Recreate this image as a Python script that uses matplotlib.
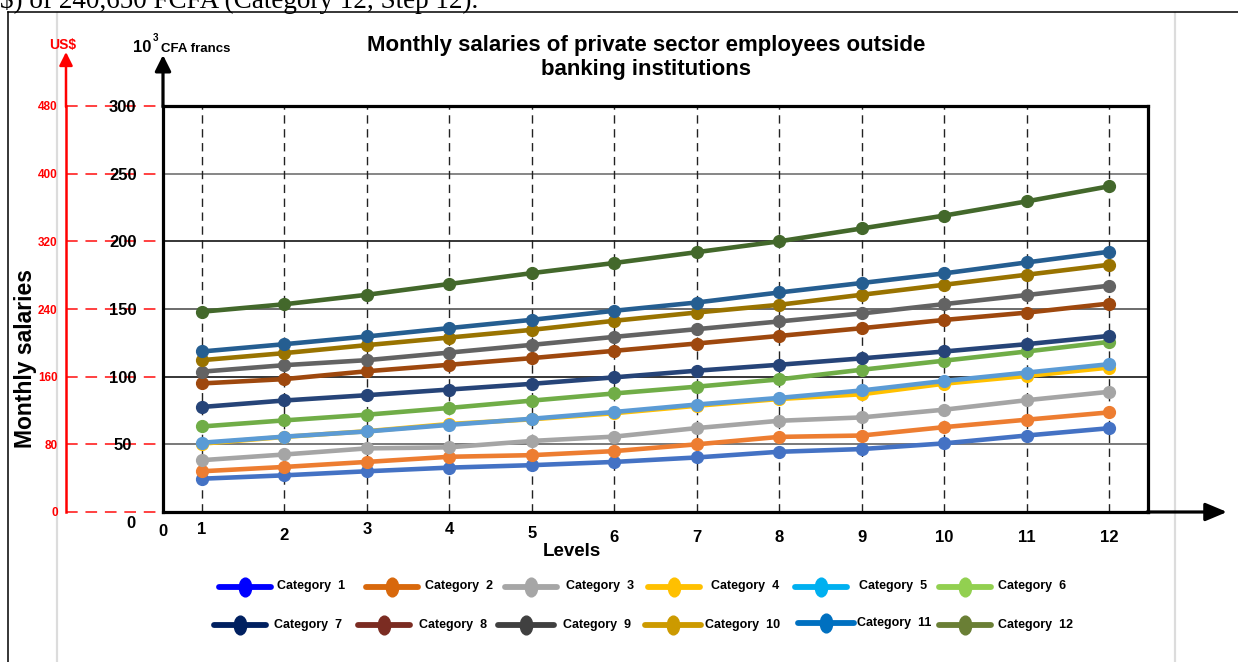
import matplotlib
matplotlib.use('Agg')
import matplotlib.pyplot as plt
from matplotlib.lines import Line2D
from matplotlib.path import Path
from matplotlib.transforms import Affine2D
import numpy as np

plt.rcParams['font.family'] = ['Liberation Sans', 'DejaVu Sans']
plt.rcParams['font.weight'] = 'bold'

# ---------------- data ----------------
levels = list(range(1, 13))
level_labels = [str(l) for l in levels]
categories = [f'Category  {i}' for i in range(1, 13)]

cat1 = [24.6, 27.1, 30.1, 32.8, 34.6, 37.0, 40.3, 44.5, 46.5, 50.7, 56.5, 61.9]
cat2 = [30.1, 33.3, 37.0, 40.8, 42.0, 45.0, 50.0, 55.5, 56.5, 62.7, 68.2, 73.6]
cat3 = [38.3, 42.5, 47.0, 47.8, 52.5, 55.7, 62.0, 67.4, 69.9, 75.6, 82.6, 88.8]
cat4 = [50.5, 55.5, 59.7, 65.0, 68.5, 73.0, 78.5, 83.5, 87.0, 94.8, 100.5, 106.7]
cat5 = [51.2, 55.7, 59.5, 64.4, 68.9, 73.9, 79.4, 84.3, 89.8, 96.8, 103.0, 109.2]
cat6 = [63.2, 67.7, 71.9, 76.9, 82.3, 87.6, 92.6, 98.0, 105.1, 111.8, 118.6, 125.7]
cat7 = [77.6, 82.4, 86.3, 90.5, 94.7, 99.5, 104.4, 108.8, 113.5, 118.6, 124.0, 130.1]
cat8 = [95.0, 98.2, 104.0, 108.8, 113.7, 119.1, 124.5, 130.1, 135.8, 141.9, 147.3, 154.0]
cat9 = [103.7, 108.5, 112.2, 117.8, 123.5, 129.4, 135.1, 140.8, 146.7, 153.6, 160.3, 167.2]
cat10 = [112.2, 117.4, 123.3, 128.9, 134.6, 141.3, 147.4, 153.1, 160.5, 167.9, 175.3, 182.7]
cat11 = [118.6, 124.0, 129.7, 135.9, 142.0, 148.7, 154.8, 162.2, 169.2, 176.3, 184.4, 192.3]
cat12 = [148.0, 153.5, 160.5, 168.5, 176.5, 184.0, 192.0, 200.0, 209.5, 219.0, 229.5, 240.65]
series = [cat1, cat2, cat3, cat4, cat5, cat6, cat7, cat8, cat9, cat10, cat11, cat12]

cfa_ticks = [50, 100, 150, 200, 250, 300]
usd_ticks = [0, 80, 160, 240, 320, 400, 480]
usd_per_kcfa = 1.6

# ---------------- styles ----------------
line_colors = ['#4472c4', '#ed7d31', '#a5a5a5', '#ffc000', '#5b9bd5', '#70ad47',
               '#264478', '#9e480e', '#636363', '#997300', '#255e91', '#43682b']
legend_colors = ['#0000ff', '#d8680c', '#a6a6a6', '#ffc000', '#00b0f0', '#92d050',
                 '#002060', '#7b2c22', '#404040', '#cc9a00', '#0070c0', '#6a7f35']
grid_colors = ['#555555', '#000000', '#444444', '#000000', '#666666']

W, H = 1238, 662
fig = plt.figure(figsize=(W / 100, H / 100), dpi=100)


def fx(px):
    return px / W


def fy(py):
    return 1 - py / H


# page decorations (behind everything)
for gx in (57, 1175):
    fig.add_artist(Line2D([fx(gx), fx(gx)], [fy(13), fy(662)], transform=fig.transFigure,
                          color='#dcdcdc', lw=1.6, zorder=-5))

ax = fig.add_axes([fx(163), fy(512), fx(1148) - fx(163), fy(106) - fy(512)])
ax.set_xlim(0.527, 12.473)
ax.set_ylim(0, 300)

# horizontal grid
for v, c in zip(cfa_ticks[:-1], grid_colors):
    ax.axhline(v, color=c, lw=1.1, zorder=1)

# vertical dashed grid
ax.set_xticks(levels)
ax.xaxis.grid(True, ls=(0, (6, 4)), color='#222222', lw=1.0, zorder=1)
ax.tick_params(axis='x', length=0, labelbottom=False)

# y ticks
ax.set_yticks(cfa_ticks)
ax.set_yticklabels([str(v) for v in cfa_ticks], fontsize=12, fontweight='bold')
for lab in ax.get_yticklabels():
    lab.set_ha('center')
ax.tick_params(axis='y', length=0, pad=29)

for s in ax.spines.values():
    s.set_linewidth(2.3)
    s.set_color('black')
    s.set_zorder(5)

# series
for vals, col in zip(series, line_colors):
    ax.plot(levels, vals, color=col, lw=3.3, marker='o', ms=8.5,
            zorder=3, solid_capstyle='round', clip_on=False)

# x tick labels with staggered offsets (as in the reference)
x_label_offsets = [18, 24, 18, 18, 21, 26, 25, 25, 25, 25, 25, 25]
for lv, lab, off in zip(levels, level_labels, x_label_offsets):
    ax.annotate(lab, xy=(lv, 0), xycoords=('data', 'axes fraction'),
                xytext=(0, -off), textcoords='offset pixels',
                ha='center', va='center', fontsize=12, fontweight='bold',
                annotation_clip=False)

# red US$ axis
red_pos = -97 / 985
sec = ax.secondary_yaxis(red_pos, functions=(lambda y: y * usd_per_kcfa,
                                             lambda u: u / usd_per_kcfa))
sec.set_yticks(usd_ticks)
sec.set_yticklabels([str(u) for u in usd_ticks])
sec.tick_params(axis='y', length=0, pad=6, colors='#ff0000', labelsize=8.5)
for lab in sec.get_yticklabels():
    lab.set_fontweight('bold')
for s in sec.spines.values():
    s.set_color('#ff0000')
    s.set_linewidth(1.8)

ax.hlines(np.array(usd_ticks) / usd_per_kcfa, red_pos, 0,
          transform=ax.get_yaxis_transform(), colors='#ff4040',
          linestyles=(0, (6, 4)), lw=1.4, clip_on=False, zorder=0)


def arrow(x0, y0, x1, y1, color, lw, ms, hl, hw):
    ax.annotate('', xy=(x1, H - y1), xytext=(x0, H - y0),
                xycoords='figure pixels', textcoords='figure pixels',
                arrowprops=dict(arrowstyle=f'-|>,head_length={hl},head_width={hw}',
                                lw=lw, color=color, shrinkA=0, shrinkB=0,
                                mutation_scale=ms),
                annotation_clip=False)


arrow(1147, 512, 1227, 512, 'black', 2.3, 13, 1.0, 0.42)
arrow(163, 107, 163, 55, 'black', 2.3, 12, 0.8, 0.4)
arrow(66, 107, 66, 52, '#ff0000', 1.8, 10, 0.8, 0.4)

# axis texts
fig.text(fx(62.5), fy(45), 'US$', color='#ff0000', fontsize=10, fontweight='bold',
         ha='center', va='center')
fig.text(fx(142.5), fy(48), '10', fontsize=12, fontweight='bold', ha='center', va='center')
fig.text(fx(155.5), fy(38), '3', fontsize=7, fontweight='bold', ha='center', va='center')
fig.text(fx(161), fy(48.5), 'CFA francs', fontsize=9.5, fontweight='bold', ha='left', va='center')
fig.text(fx(130.7), fy(523), '0', fontsize=12, fontweight='bold', ha='center', va='center')
fig.text(fx(163), fy(531), '0', fontsize=12, fontweight='bold', ha='center', va='center')
fig.text(fx(572), fy(551), 'Levels', fontsize=13.5, fontweight='bold', ha='center', va='center')
fig.text(fx(26), fy(359), 'Monthly salaries', fontsize=16.5, fontweight='bold',
         rotation=90, ha='center', va='center')
fig.text(fx(646), fy(45), 'Monthly salaries of private sector employees outside',
         fontsize=16, fontweight='bold', ha='center', va='center')
fig.text(fx(646), fy(69), 'banking institutions',
         fontsize=16, fontweight='bold', ha='center', va='center')

# cut-off document text at the top
fig.text(fx(0), fy(8), '$) of 240,650 FCFA (Category 12, Step 12).',
         family='Liberation Serif', fontweight='normal', fontsize=19.5,
         ha='left', va='baseline')

# page frame
fig.add_artist(Line2D([fx(8), fx(8)], [fy(12), fy(662)], transform=fig.transFigure,
                      color='black', lw=1.1))
fig.add_artist(Line2D([fx(8), fx(1238)], [fy(12), fy(12)], transform=fig.transFigure,
                      color='black', lw=1.1))

# manual legend
circ = Path.unit_circle()
oval = Path(Affine2D().scale(0.66, 1.0).transform(circ.vertices), circ.codes)
handle_x = [(219, 271), (366, 418), (505, 557), (648, 700), (795, 847), (939, 991),
            (214, 266), (358, 410), (498, 554), (645, 701), (798, 854), (939, 991)]
text_x = [277, 425, 566, 711, 859, 998, 274, 419, 563, 705, 857, 998]
row_y = [586.5] * 6 + [625, 625, 625, 625, 623, 625]
for name, col, (x0, x1), tx, yy in zip(categories, legend_colors, handle_x, text_x, row_y):
    fig.add_artist(Line2D([fx(x0), fx(x1)], [fy(yy), fy(yy)], transform=fig.transFigure,
                          color=col, lw=4.2, solid_capstyle='round'))
    fig.add_artist(Line2D([fx((x0 + x1) / 2)], [fy(yy)], transform=fig.transFigure,
                          color=col, marker=oval, ms=13.5, ls='none'))
    fig.text(fx(tx), fy(yy), name, fontsize=9, fontweight='bold', ha='left', va='center')

fig.savefig('out.png', dpi=100)
